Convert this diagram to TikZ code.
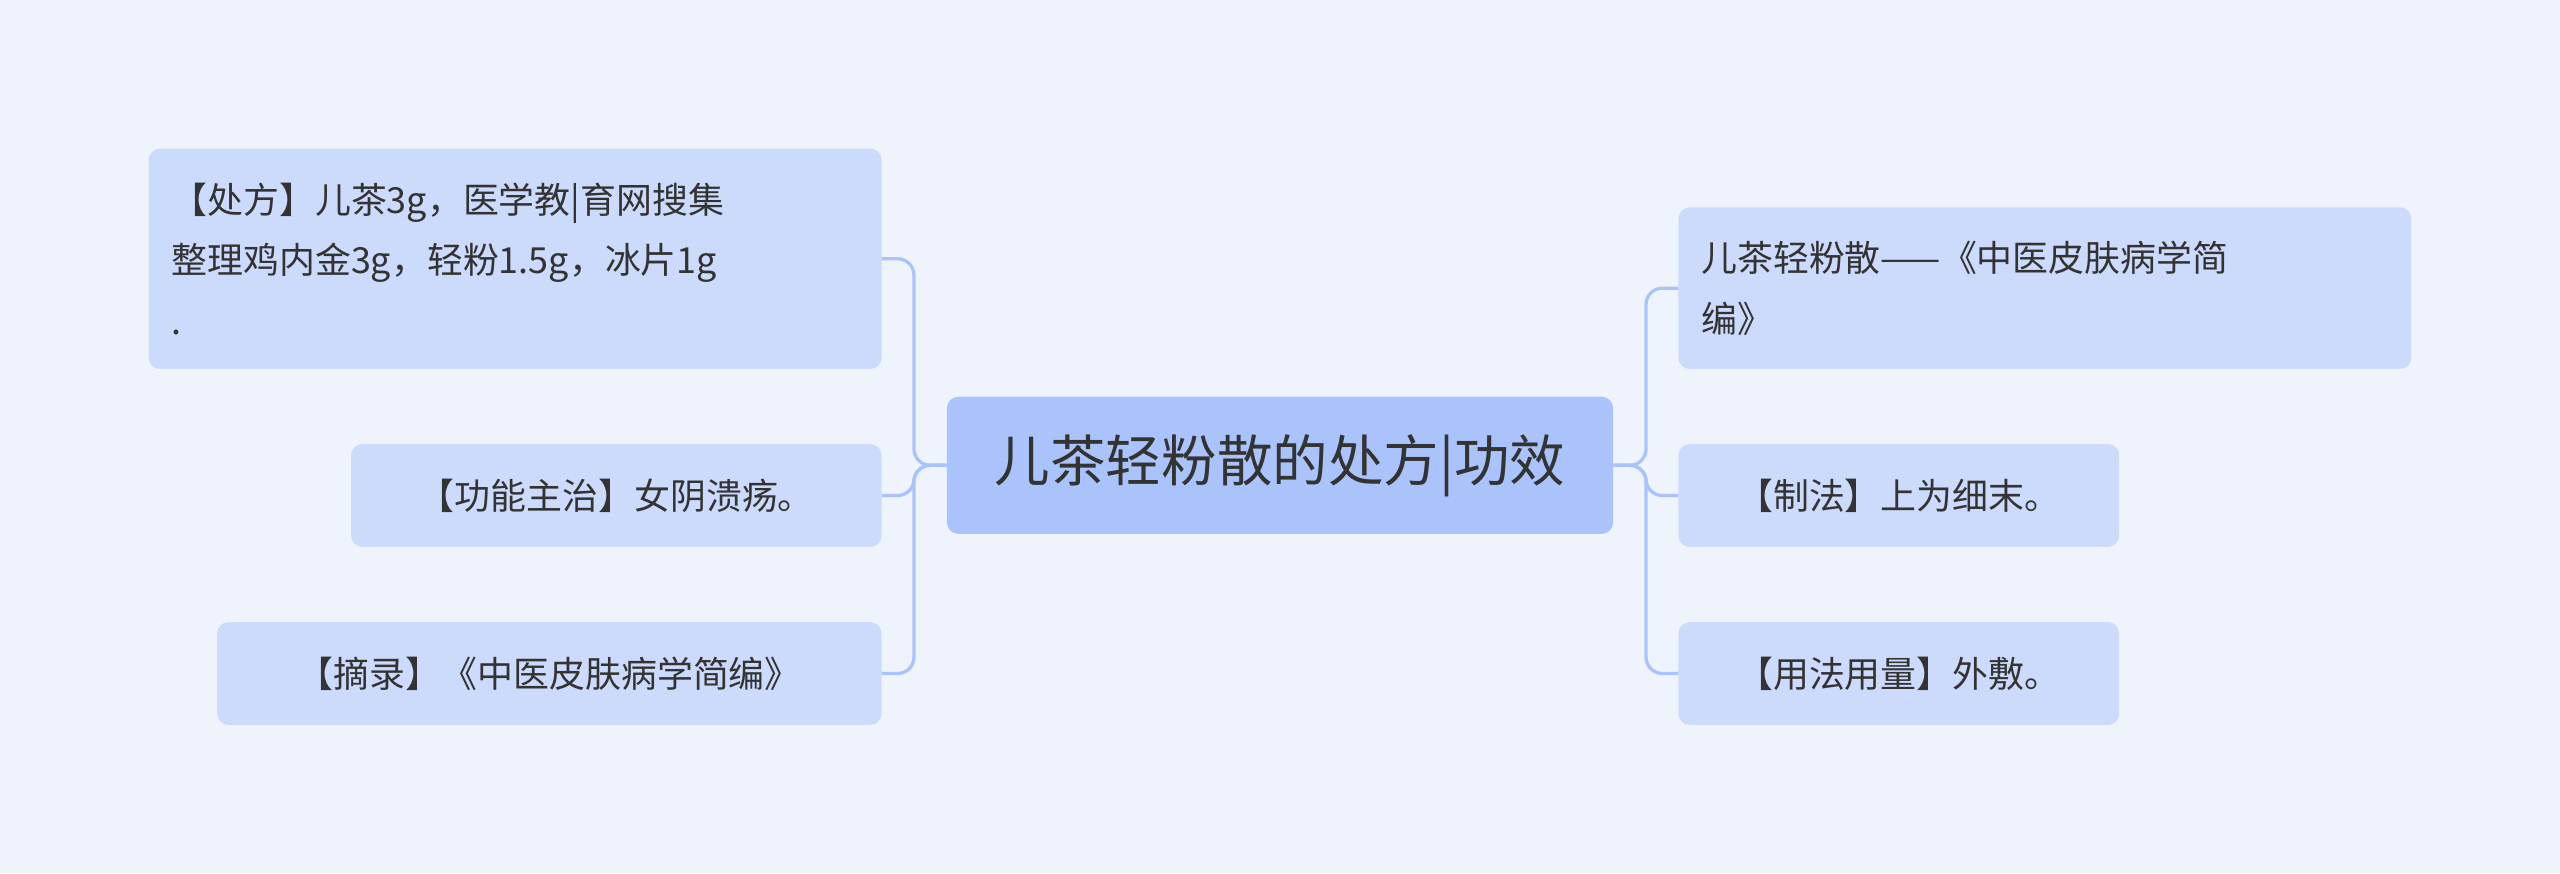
\documentclass[tikz,border=0pt]{standalone}
\usepackage{fontspec}
\setmainfont{Noto Sans CJK SC}
\definecolor{bg}{HTML}{EEF3FC}
\definecolor{leaf}{HTML}{CCDAFC}
\definecolor{root}{HTML}{AAC4FB}
\definecolor{ln}{HTML}{AAC4FB}
\definecolor{tx}{HTML}{333333}
\begin{document}
\begin{tikzpicture}[x=1pt,y=-1pt,
  leafbox/.style={fill=leaf,rounded corners=7,inner sep=0pt,text=tx,font=\fontsize{22}{37}\selectfont},
  conn/.style={draw=ln,line width=2,rounded corners=10}]
\fill[bg] (0,0) rectangle (1568,535);
\useasboundingbox (0,0) rectangle (1568,535);
\node[fill=root,rounded corners=7,minimum width=408,minimum height=84,inner sep=0pt,text=tx,font=\fontsize{34}{40}\selectfont] (c) at (784,285) {儿茶轻粉散的处方|功效};
\node[leafbox,minimum width=449,minimum height=135,align=left,text width=421] (l1) at (315.5,158.5) {【处方】儿茶3g，医学教|育网搜集\\整理鸡内金3g，轻粉1.5g，冰片1g\\.};
\node[leafbox,minimum width=325,minimum height=63] (l2) at (377.5,303.5) {【功能主治】女阴溃疡。};
\node[leafbox,minimum width=407,minimum height=63] (l3) at (336.5,412.5) {【摘录】《中医皮肤病学简编》};
\node[leafbox,minimum width=449,minimum height=99,align=left,text width=421] (r1) at (1252.5,176.5) {儿茶轻粉散——《中医皮肤病学简\\编》};
\node[leafbox,minimum width=270,minimum height=63] (r2) at (1163,303.5) {【制法】上为细末。};
\node[leafbox,minimum width=270,minimum height=63] (r3) at (1163,412.5) {【用法用量】外敷。};
\foreach \n in {l1,l2,l3} \draw[conn] (c.west) -- ++(-20,0) |- (\n.east);
\foreach \n in {r1,r2,r3} \draw[conn] (c.east) -- ++(20,0) |- (\n.west);
\end{tikzpicture}
\end{document}
